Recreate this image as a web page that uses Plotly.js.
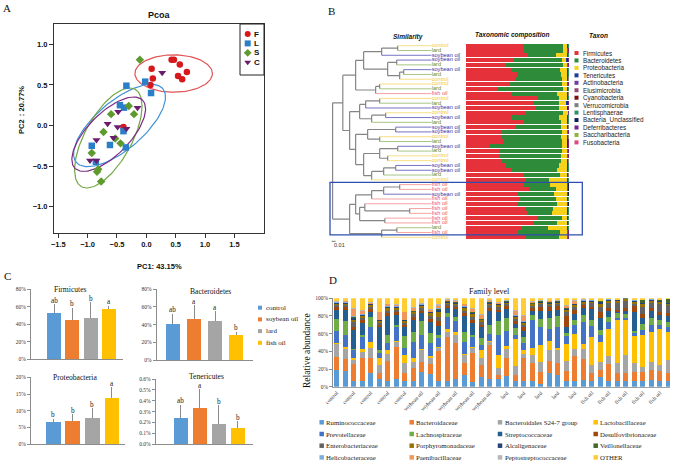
<!DOCTYPE html>
<html><head><meta charset="utf-8">
<script src="https://cdn.plot.ly/plotly-3.0.1.min.js"></script>
<style>html,body{margin:0;padding:0;background:#fff}#chart{width:675px;height:464px}</style>
</head><body><div id="chart"></div>
<script>
// ================= DATA =================
// Panel A : PCoA scores
const pcoaGroups = ['F', 'L', 'S', 'C'];
const fX = [0.09, 0.11, 0.07, 0.43, 0.47, 0.57, 0.69, 0.54, 0.61, -0.39];
const fY = [0.70, 0.58, 0.50, 0.81, 0.81, 0.75, 0.66, 0.61, 0.57, -0.02];
const lX = [-0.34, -0.02, 0.08, -0.45, -0.38, -0.39, -0.93, -0.86, -0.62, -0.35];
const lY = [0.49, 0.54, 0.40, 0.25, 0.22, -0.07, -0.25, -0.45, -0.24, -0.27];
const sX = [-0.11, -0.30, -0.60, -0.21, -0.73, -0.53, -0.44, -0.93, -0.82, -0.84, -0.77];
const sY = [0.81, 0.24, 0.14, 0.14, -0.08, -0.16, -0.22, -0.34, -0.54, -0.57, -0.69];
const cX = [0.27, -0.15, -0.48, -0.66, -0.49, -0.34, -0.56, -0.85, -0.96, -0.85];
const cY = [0.65, 0.22, 0.17, 0.02, -0.02, -0.04, -0.15, -0.18, -0.43, -0.43];
// confidence ellipses: centre and two conjugate half-axes (data units)
const ellCx = [0.465, -0.457, -0.648, -0.641];
const ellCy = [0.64, 0.0, -0.154, -0.107];
const ellUx = [0.66, 0.678, 0.455, 0.574];
const ellUy = [0.0, 0.487, 0.60, 0.421];
const ellVx = [0.0, 0.391, 0.35, 0.254];
const ellVy = [0.23, -0.1425, -0.139, -0.181];

// Panel B : samples (dendrogram leaves, top to bottom)
const sampleGroups = ['control','lard','soybean oil','soybean oil','lard','soybean oil','lard','control','control','lard',
 'fish oil','control','lard','soybean oil','control','soybean oil','lard','soybean oil','soybean oil','control',
 'lard','soybean oil','lard','control','control','soybean oil','soybean oil','lard','control','fish oil',
 'fish oil','soybean oil','fish oil','fish oil','fish oil','fish oil','fish oil','fish oil','lard','fish oil','control'];
// tree: [height, left, right]; leaves are row numbers
const dendroTree = [0.2475,
  [0.222,
    [0.19,
      [0.17, [0.125, [0.085, 1, 2], 3], [0.11, [0.0875, 4, 5], [0.08, [0.07, 6, 7], 8]]],
      [0.14, [0.13, 9, 10], 11]],
    [0.205,
      [0.18, [0.165, [0.13, 12, 13], 14], [0.15, [0.115, 15, 16], 17]],
      [0.19, [0.16, [0.09, 18, 19], [0.13, 20, 21]],
             [0.17, [0.13, [0.085, 22, 23], [0.11, 24, 25]], [0.15, [0.12, [0.09, 26, 27], 28], 29]]]]],
  [0.205,
    [0.19, [0.15, [0.12, [0.08, 30, 31], 32], 33], [0.18, [0.167, 34, [0.055, 35, 36]], [0.117, 37, 38]]],
    [0.125, [0.087, 39, 40], 41]]];
const phylumNames = ['Firmicutes','Bacteroidetes','Proteobacteria','Tenericutes','Actinobacteria','Elusimicrobia',
 'Cyanobacteria','Verrucomicrobia','Lentisphaerae','Bacteria_Unclassified','Deferribacteres','Saccharibacteria','Fusobacteria'];
const firmicutes = [55.6,55.0,59.8,46.9,38.6,43.4,49.8,47.6,42.8,30.5, 45.0,70.1,65.3,66.9,57.9,45.0,55.6,48.6,34.1,34.1,
 36.3,22.8,32.5,32.5,35.4,37.9,43.7,55.6,57.9,55.6, 61.4,49.8,51.8,49.2,57.6,59.8,69.1,65.3,54.0,50.2,57.9];
const bacteroidetes = [37.9,38.6,27.3,45.7,55.0,47.6,42.1,45.7,50.2,63.0, 43.1,19.9,24.8,22.8,36.0,45.0,36.3,43.4,58.8,57.9,
 56.3,69.8,60.1,59.5,56.9,52.4,44.1,35.4,22.2,25.7, 25.7,35.7,35.0,39.2,27.0,23.8,23.5,22.5,25.1,40.8,32.5];
const proteobacteria = [4.5,3.9,10.9,4.2,3.9,7.1,6.1,4.8,4.5,4.5, 10.0,8.0,6.8,7.7,5.1,8.0,6.1,6.1,4.5,6.1,
 4.8,4.8,4.8,5.5,5.8,7.7,10.3,7.1,18.0,16.7, 10.9,12.5,11.3,9.6,13.5,14.5,5.5,10.3,19.0,6.4,7.1];
const tenericutes = [0.3,0.3,0.3,0.5,0.3,0.2,0.3,0.3,0.4,0.3, 0.3,0.3,0.5,0.3,0.2,0.3,0.3,0.3,0.4,0.3,
 0.3,0.3,0.4,0.3,0.3,0.3,0.2,0.3,0.2,0.2, 0.2,0.2,0.2,0.2,0.2,0.2,0.2,0.2,0.2,0.4,0.3];
const actinobacteria = [0.4,0.4,0.4,0.5,0.4,0.4,0.4,0.4,0.4,0.4, 0.4,0.4,0.5,0.4,0.3,0.4,0.4,0.4,0.4,0.4,
 0.4,0.4,0.4,0.4,0.4,0.4,0.4,0.4,0.4,0.4, 0.4,0.4,0.4,0.4,0.4,0.4,0.4,0.4,0.4,0.4,0.4];
const elusimicrobia = [0.1,0.1,0.1,0.1,0.1,0.1,0.1,0.1,0.1,0.1, 0.1,0.1,0.1,0.1,0.1,0.1,0.1,0.1,0.1,0.1,
 0.1,0.1,0.1,0.1,0.1,0.1,0.1,0.1,0.1,0.1, 0.1,0.1,0.1,0.1,0.1,0.1,0.1,0.1,0.1,0.1,0.1];
const cyanobacteria = [0.2,0.3,0.2,0.6,0.2,0.2,0.2,0.2,0.3,0.2, 0.2,0.2,0.5,0.3,0.1,0.2,0.2,0.2,0.3,0.2,
 0.3,0.3,0.3,0.3,0.2,0.2,0.2,0.2,0.2,0.2, 0.2,0.2,0.2,0.2,0.2,0.2,0.2,0.2,0.2,0.3,0.3];
const verrucomicrobia = [0.2,0.3,0.2,0.4,0.3,0.2,0.2,0.2,0.3,0.2, 0.2,0.2,0.4,0.3,0.1,0.2,0.2,0.2,0.3,0.2,
 0.3,0.3,0.3,0.3,0.2,0.2,0.2,0.2,0.2,0.2, 0.2,0.2,0.2,0.2,0.2,0.2,0.2,0.2,0.2,0.3,0.3];
const lentisphaerae = [0.1,0.1,0.1,0.1,0.1,0.1,0.1,0.1,0.1,0.1, 0.1,0.1,0.1,0.1,0.05,0.1,0.1,0.1,0.1,0.1,
 0.1,0.1,0.1,0.1,0.1,0.1,0.1,0.1,0.1,0.1, 0.1,0.1,0.1,0.1,0.1,0.1,0.1,0.1,0.1,0.1,0.1];
const unclassified = [0.1,0.1,0.1,0.1,0.1,0.1,0.1,0.1,0.1,0.1, 0.1,0.1,0.1,0.1,0.05,0.1,0.1,0.1,0.1,0.1,
 0.1,0.1,0.1,0.1,0.1,0.1,0.1,0.1,0.1,0.1, 0.1,0.1,0.1,0.1,0.1,0.1,0.1,0.1,0.1,0.1,0.1];
const deferribacteres = [0.5,0.8,0.5,0.8,0.9,0.6,0.6,0.5,0.8,0.6, 0.5,0.6,0.8,0.9,0.05,0.6,0.6,0.5,0.9,0.5,
 0.9,0.9,0.8,0.8,0.5,0.6,0.6,0.5,0.6,0.7, 0.7,0.7,0.6,0.7,0.6,0.6,0.6,0.6,0.6,0.8,0.8];
const saccharibacteria = [0.05,0.05,0.05,0.05,0.05,0.05,0.05,0.05,0.05,0.05, 0.05,0.05,0.05,0.05,0.05,0.05,0.05,0.05,0.05,0.05,
 0.05,0.05,0.05,0.05,0.05,0.05,0.05,0.05,0.05,0.05, 0.05,0.05,0.05,0.05,0.05,0.05,0.05,0.05,0.05,0.05,0.05];
const fusobacteria = [0.05,0.05,0.05,0.05,0.05,0.05,0.05,0.05,0.05,0.05, 0.05,0.05,0.05,0.05,0.05,0.05,0.05,0.05,0.05,0.05,
 0.05,0.05,0.05,0.05,0.05,0.05,0.05,0.05,0.05,0.05, 0.05,0.05,0.05,0.05,0.05,0.05,0.05,0.05,0.05,0.05,0.05];

// Panel C : group means (%) with one-sided SD and significance letters
const dietGroups = ['control', 'soybean oil', 'lard', 'fish oil'];
const firmMean = [53.2, 45.1, 46.7, 57.4];
const firmErr = [9.4, 13.5, 18.2, 4.0];
const firmLetters = ['ab', 'b', 'b', 'a'];
const bactMean = [40.4, 46.4, 44.1, 28.3];
const bactErr = [12.2, 15.3, 10.8, 3.4];
const bactLetters = ['ab', 'a', 'a', 'b'];
const proteoMean = [6.6, 7.0, 7.9, 13.9];
const proteoErr = [1.0, 2.0, 2.8, 3.2];
const proteoLetters = ['b', 'b', 'b', 'a'];
const teneMean = [0.239, 0.336, 0.189, 0.152];
const teneErr = [0.126, 0.172, 0.172, 0.062];
const teneLetters = ['ab', 'a', 'b', 'b'];

// Panel D : family level relative abundance (%) for 40 samples
const dGroups = ['control','control','control','control','control','control','control','control','control','control',
 'soybean oil','soybean oil','soybean oil','soybean oil','soybean oil','soybean oil','soybean oil','soybean oil','soybean oil','soybean oil',
 'lard','lard','lard','lard','lard','lard','lard','lard','lard','lard',
 'fish oil','fish oil','fish oil','fish oil','fish oil','fish oil','fish oil','fish oil','fish oil','fish oil'];
const dFamilies = ['Ruminococcaceae','Bacteroidaceae','Bacteroidales S24-7 group','Lactobacillaceae','Prevotellaceae',
 'Lachnospiraceae','Streptococcaceae','Desulfovibrionaceae','Enterobacteriaceae','Porphyromonadaceae','Alcaligenaceae',
 'Veillonellaceae','Helicobacteraceae','Paenibacillaceae','Peptostreptococcaceae','OTHER'];
const ruminococcaceae = [19,18,6,7,15,9,7,9,6,7, 17,14,7,6,9,13,5,11,9,9, 12,7,6,6,3,16,13,7,7,8, 7,11,7,6,6,7,7,8,7,6];
const bacteroidaceae = [15,13,20,26,18,6,22,36,9,14, 11,12,33,50,40,14,33,13,38,4, 20,6,26,21,14,13,14,11,28,23, 9,8,19,10,10,10,10,11,11,10];
const s24_7 = [14,12,4,6,11,9,8,6,12,7, 13,6,4,6,9,9,6,9,4,8, 11,10,5,9,11,12,15,11,8,12, 8,9,9,11,20,10,5,9,7,14];
const lactobacillaceae = [1,2,2,4,6,9,4,1,9,5, 2,3,1,3,4,1,1,8,1,15, 3,31,4,8,19,11,2,19,17,5, 32,23,30,49,40,30,36,34,40,32];
const prevotellaceae = [14,13,9,13,18,5,8,16,8,17, 16,14,10,14,12,13,11,6,8,23, 17,4,8,31,20,13,23,9,10,25, 13,8,8,2,2,4,6,8,5,5];
const lachnospiraceae = [14,16,2,2,11,3,10,2,13,12, 15,12,4,4,5,12,3,8,10,15, 15,8,7,6,10,13,13,4,6,8, 6,5,6,5,4,2,7,8,6,6];
const streptococcaceae = [10,13,21,14,6,26,21,11,10,13, 9,12,10,6,9,18,13,12,16,10, 10,5,7,5,9,8,7,6,6,8, 13,14,7,2,4,22,7,8,5,7];
const desulfovibrionaceae = [3,3,4,3,3,3,3,3,3,4, 3,4,5,2,2,3,4,3,3,3, 3,3,4,3,4,4,4,13,5,3, 2,6,3,2,3,6,4,3,3,3];
const enterobacteriaceae = [2,2,5,3,2,2,3,3,2,3, 3,3,5,2,2,3,3,3,3,3, 2,3,3,2,3,2,2,4,3,2, 5,6,6,8,8,3,8,6,9,9];
const porphyromonadaceae = [2,2,3,2,2,2,3,2,2,2, 2,3,5,2,2,3,3,2,2,2, 2,2,2,2,2,2,2,3,2,2, 1,3,2,2,2,2,3,2,3,2];
const alcaligenaceae = [0.5,0.5,2,1,1,1,1,1,1,1, 1,1,3,1,1,1,1,1,1,1, 1,1,1,1,1,1,1,1,1,1, 1,3,1,1,0.5,1,2,1,1,1];
const veillonellaceae = [0.5,0.5,1,0.5,0.5,0.5,0.5,0.5,0.5,0.5, 0.5,0.5,1,0.5,0.5,0.5,1,0.5,0.5,0.5, 0.5,0.5,0.5,0.5,0.5,0.5,0.5,0.5,0.5,0.5, 0.5,0.5,0.5,0.5,0.5,0.5,3,0.5,1,4];
const helicobacteraceae = [0.5,0.5,0.5,0.5,0.5,0.5,0.5,0.5,0.5,0.5, 0.5,0.5,0.5,0.5,0.5,0.5,0.5,0.5,0.5,0.5, 0.5,0.5,0.5,0.5,0.5,0.5,0.5,0.5,0.5,0.5, 0.5,0.5,0.5,0,0,0.5,0.5,0.5,0.5,0];
const paenibacillaceae = [0.5,1,8,4,1,8,2,1,8,3, 1,2,3,1,1,2,3,4,1,1, 0.5,5,6,1,0.5,0.5,0.5,2,3,0.5, 0,0,0,0,0,0,0,0,0,0];
const peptostreptococcaceae = [0.5,0.5,1.5,1,1,1,1,1,1,1, 1,1,1.5,1,1,1,1.5,1,1,1, 0.5,1,1,1,0.5,0.5,0.5,1,1,0.5, 0,0,0,0,0,0,0,0,0,0];
const otherFamilies = [3.5,3,11,13,4,15,6,7,15,10, 5,12,7,1,2,6,11,18,2,4, 2,13,19,3,2,3,2,8,2,1, 2,3,1,1.5,1,2,1.5,1,1.5,1];

// ================= STYLE =================
const W = 675, H = 464;
const px = x => x / W, py = y => 1 - y / H;
const sans = 'Liberation Sans, Arial, sans-serif';
const serif = 'Liberation Serif, Times New Roman, serif';
const pcoaColors = ['#d7191c', '#2b7fc8', '#5f9a2e', '#6a1d6e'];
const pcoaEllColors = ['#e35353', '#3f92d8', '#74a843', '#7e2b86'];
const pcoaSymbols = ['circle', 'square', 'diamond', 'triangle-down'];
const groupText = {'control': '#f0c935', 'lard': '#5f8f33', 'soybean oil': '#3434a6', 'fish oil': '#ee5a5a'};
const groupLine = {'control': '#f6df86', 'lard': '#a7c683', 'soybean oil': '#7474c4', 'fish oil': '#f5a3a3'};
const phylumColors = ['#e5313a','#2e8b3a','#f6d21c','#1a3d9c','#6b3fa0','#8e4b74','#7a0c0c','#7f7f7f','#2f8f6f','#0e1f5c','#74238f','#8fb33f','#e0457b'];
const dietColors = ['#5b9bd5', '#ed7d31', '#a5a5a5', '#ffc000'];
const familyColors = ['#5b9bd5','#ed7d31','#a5a5a5','#ffc000','#4472c4','#70ad47','#255e91','#9e480e','#636363','#997300','#264478','#43682b','#7cafdd','#f1975a','#b7b7b7','#ffcd33'];

const traces = [], annotations = [], shapes = [];
function ann(text, x, y, font, extra) {
  annotations.push(Object.assign({text, x: px(x), y: py(y), xref: 'paper', yref: 'paper', showarrow: false,
    xanchor: 'center', yanchor: 'middle', font}, extra || {}));
}
const layout = {
  width: W, height: H, margin: {l: 0, r: 0, t: 0, b: 0}, paper_bgcolor: '#fff', plot_bgcolor: 'rgba(0,0,0,0)',
  showlegend: false, hovermode: false, barmode: 'stack', annotations, shapes
};

// ================= PANEL A =================
const ptsX = [fX, lX, sX, cX], ptsY = [fY, lY, sY, cY];
pcoaGroups.forEach((g, i) => {
  const xs = [], ys = [];
  for (let k = 0; k <= 120; k++) {
    const t = 2 * Math.PI * k / 120;
    xs.push(ellCx[i] + ellUx[i] * Math.cos(t) + ellVx[i] * Math.sin(t));
    ys.push(ellCy[i] + ellUy[i] * Math.cos(t) + ellVy[i] * Math.sin(t));
  }
  traces.push({type: 'scatter', mode: 'lines', x: xs, y: ys, xaxis: 'x', yaxis: 'y',
    line: {color: pcoaEllColors[i], width: 1.2}});
});
pcoaGroups.forEach((g, i) => {
  traces.push({type: 'scatter', mode: 'markers', name: g, x: ptsX[i], y: ptsY[i], xaxis: 'x', yaxis: 'y',
    marker: {symbol: pcoaSymbols[i], color: pcoaColors[i], size: i === 3 ? 7 : 6.5}});
});
const aTick = {family: sans, size: 7.5, color: '#111', weight: 'bold'};
layout.xaxis = {domain: [px(54), px(264)], range: [-1.573, 2.004], anchor: 'y', showline: true, mirror: true,
  linecolor: '#333', linewidth: 1, ticks: 'outside', ticklen: 4, tickcolor: '#333',
  tickvals: [-1.5, -1, -0.5, 0, 0.5, 1, 1.5], tickformat: '.1f', tickfont: aTick, showgrid: false, zeroline: false, fixedrange: true};
layout.yaxis = {domain: [py(233), py(24)], range: [-1.324, 1.25], anchor: 'x', showline: true, mirror: true,
  linecolor: '#333', linewidth: 1, ticks: 'outside', ticklen: 4, tickcolor: '#333',
  tickvals: [-1, -0.5, 0, 0.5, 1], tickformat: '.1f', tickfont: aTick, showgrid: false, zeroline: false, fixedrange: true};
ann('Pcoa', 159, 15, {family: sans, size: 9, color: '#111', weight: 'bold'});
ann('PC1: 43.15%', 159.5, 266, {family: sans, size: 7.5, color: '#111', weight: 'bold'});
ann('PC2：20.77%', 22, 110, {family: sans, size: 7.5, color: '#111', weight: 'bold'}, {textangle: -90});
shapes.push({type: 'rect', xref: 'paper', yref: 'paper', x0: px(240), x1: px(264), y0: py(75), y1: py(24),
  line: {color: '#222', width: 1}});

// overlay axis in pixel units for legend keys
layout.xaxis9 = {domain: [0, 1], range: [0, W], visible: false, anchor: 'y9', fixedrange: true};
layout.yaxis9 = {domain: [0, 1], range: [H, 0], visible: false, anchor: 'x9', fixedrange: true};
function legendKeys(names, colors, symbols, xKey, xText, y0, dy, size, font) {
  const ys = names.map((n, i) => y0 + i * dy);
  traces.push({type: 'scatter', mode: 'markers', x: names.map(() => xKey), y: ys, xaxis: 'x9', yaxis: 'y9',
    marker: {symbol: symbols, color: colors, size: size}, cliponaxis: false});
  names.forEach((n, i) => ann(n, xText, ys[i], font, {xanchor: 'left'}));
}
legendKeys(pcoaGroups, pcoaColors, pcoaSymbols, 247.7, 252, 34, 9.4, 6, {family: sans, size: 8, color: '#111', weight: 'bold'});

// ================= PANEL B =================
const segs = {};
function addSeg(key, xs, ys) {
  if (!segs[key]) segs[key] = {x: [], y: []};
  segs[key].x.push(xs[0], xs[1], null); segs[key].y.push(ys[0], ys[1], null);
}
function walk(node) {
  if (typeof node === 'number') return {y: node, h: 0, leaf: true, g: sampleGroups[node - 1]};
  const h = node[0], a = walk(node[1]), b = walk(node[2]);
  addSeg('internal', [h, h], [a.y, b.y]);
  [a, b].forEach(c => addSeg(c.leaf ? c.g : 'internal', [c.h, h], [c.y, c.y]));
  return {y: (a.y + b.y) / 2, h: h, leaf: false};
}
walk(dendroTree);
Object.keys(segs).forEach(k => {
  traces.push({type: 'scatter', mode: 'lines', x: segs[k].x, y: segs[k].y, xaxis: 'x2', yaxis: 'y2',
    line: {color: k === 'internal' ? '#858585' : groupLine[k], width: k === 'internal' ? 1.2 : 1}, cliponaxis: false});
});
const rows = sampleGroups.map((g, i) => i + 1);
traces.push({type: 'scatter', mode: 'text', x: rows.map(() => 0), y: rows, text: sampleGroups, xaxis: 'x2', yaxis: 'y2',
  textposition: 'middle right', textfont: {family: sans, size: 5.6, color: sampleGroups.map(g => groupText[g])}, cliponaxis: false});
const phylumValues = [firmicutes, bacteroidetes, proteobacteria, tenericutes, actinobacteria, elusimicrobia, cyanobacteria,
  verrucomicrobia, lentisphaerae, unclassified, deferribacteres, saccharibacteria, fusobacteria];
phylumNames.forEach((n, i) => {
  traces.push({type: 'bar', orientation: 'h', name: n, x: phylumValues[i], y: rows, xaxis: 'x3', yaxis: 'y3',
    width: 0.86, marker: {color: phylumColors[i], line: {width: 0}}});
});
layout.xaxis2 = {domain: [px(330), px(431.7)], range: [0.254, 0], visible: false, anchor: 'y2', fixedrange: true};
layout.yaxis2 = {domain: [py(239.7), py(43.3)], range: [41.5, 0.5], visible: false, anchor: 'x2', fixedrange: true};
layout.xaxis3 = {domain: [px(465.7), px(569.3)], range: [0, 100], visible: false, anchor: 'y3', fixedrange: true};
layout.yaxis3 = {domain: [py(239.7), py(43.3)], range: [41.5, 0.5], visible: false, anchor: 'x3', fixedrange: true};
const bTitle = {family: sans, size: 6.5, color: '#111', weight: 'bold', style: 'italic'};
ann('Similarity', 408, 37, bTitle);
ann('Taxonomic composition', 512, 35, bTitle);
ann('Taxon', 598, 35, bTitle);
shapes.push({type: 'rect', xref: 'paper', yref: 'y2', x0: px(330), x1: px(582.3), y0: 29.55, y1: 40.5,
  line: {color: '#2f4fb0', width: 1.3}});
shapes.push({type: 'line', xref: 'x2', yref: 'paper', x0: 0.25, x1: 0.24, y0: py(241.3), y1: py(241.3),
  line: {color: '#555', width: 0.8}});
ann('0.01', 340, 245.5, {family: sans, size: 5.5, color: '#333'});
legendKeys(phylumNames, phylumColors, phylumNames.map(() => 'square'), 576.5, 581, 53, 7.45, 4,
  {family: sans, size: 6.3, color: '#222'});

// ================= PANEL C =================
const cPanels = [
  {n: 4, mean: firmMean, err: firmErr, letters: firmLetters, title: 'Firmicutes', tx: 70, ty: 289.5,
   xd: [31, 123], yd: [359, 289.3], xr: [-1.285, 3.789], yr: [0, 80], dtick: 20, fmt: 'd', w: 0.77},
  {n: 5, mean: bactMean, err: bactErr, letters: bactLetters, title: 'Bacteroidetes', tx: 210, ty: 291.3,
   xd: [156.7, 253], yd: [360, 289.3], xr: [-0.771, 3.795], yr: [0, 80], dtick: 20, fmt: 'd', w: 0.64},
  {n: 6, mean: proteoMean, err: proteoErr, letters: proteoLetters, title: 'Proteobacteria', tx: 75, ty: 377.5,
   xd: [31, 125], yd: [444.3, 377.3], xr: [-1.133, 3.665], yr: [0, 20], dtick: 5, fmt: 'd', w: 0.75},
  {n: 7, mean: teneMean, err: teneErr, letters: teneLetters, title: 'Tenericutes', tx: 206.7, ty: 376.8,
   xd: [155.7, 253.3], yd: [444.3, 379], xr: [-1.318, 3.806], yr: [0, 0.6], dtick: 0.1, fmt: '.1f', w: 0.76}
];
cPanels.forEach(p => {
  const xs = dietGroups.map((g, k) => k);
  traces.push({type: 'bar', x: xs, y: p.mean, xaxis: 'x' + p.n, yaxis: 'y' + p.n, width: p.w,
    marker: {color: dietColors, line: {width: 0}},
    error_y: {type: 'data', symmetric: false, array: p.err, arrayminus: p.err.map(() => 0), color: '#8a8a8a', thickness: 1, width: 0}});
  layout['xaxis' + p.n] = {domain: [px(p.xd[0]), px(p.xd[1])], range: p.xr, anchor: 'y' + p.n, showline: true,
    linecolor: '#8c8c8c', linewidth: 1, ticks: '', showticklabels: false, showgrid: false, zeroline: false, fixedrange: true};
  layout['yaxis' + p.n] = {domain: [py(p.yd[0]), py(p.yd[1])], range: p.yr, anchor: 'x' + p.n, showline: true,
    linecolor: '#8c8c8c', linewidth: 1, ticks: 'outside', ticklen: 3, tickcolor: '#8c8c8c', tick0: 0, dtick: p.dtick,
    tickformat: p.fmt, ticksuffix: '%', tickfont: {family: serif, size: 5.5, color: '#333'},
    showgrid: false, zeroline: false, fixedrange: true};
  p.letters.forEach((L, k) => annotations.push({text: L, x: k, y: p.mean[k] + p.err[k], xref: 'x' + p.n, yref: 'y' + p.n,
    showarrow: false, xanchor: 'center', yanchor: 'bottom', yshift: -2.5, font: {family: serif, size: 7.2, color: '#222'}}));
  ann(p.title, p.tx, p.ty, {family: serif, size: 7.6, color: '#111'});
});
legendKeys(dietGroups, dietColors, dietGroups.map(() => 'square'), 260, 264, 307.7, 11.7, 4,
  {family: serif, size: 7, color: '#222'});

// ================= PANEL D =================
const familyValues = [ruminococcaceae, bacteroidaceae, s24_7, lactobacillaceae, prevotellaceae, lachnospiraceae,
  streptococcaceae, desulfovibrionaceae, enterobacteriaceae, porphyromonadaceae, alcaligenaceae, veillonellaceae,
  helicobacteraceae, paenibacillaceae, peptostreptococcaceae, otherFamilies];
const dx = dGroups.map((g, i) => i);
dFamilies.forEach((f, i) => {
  traces.push({type: 'bar', name: f, x: dx, y: familyValues[i], xaxis: 'x8', yaxis: 'y8', width: 0.55,
    marker: {color: familyColors[i], line: {width: 0}}});
});
const dTickIdx = dx.filter(i => i % 2 === 0);
layout.xaxis8 = {domain: [px(333.3), px(670)], range: [-0.4, 39.2], anchor: 'y8', showline: true, linecolor: '#a0a0a0',
  linewidth: 1, ticks: '', tickvals: dTickIdx, ticktext: dTickIdx.map(i => dGroups[i]), tickangle: -45,
  tickfont: {family: serif, size: 5.5, color: '#333'}, showgrid: false, zeroline: false, fixedrange: true};
layout.yaxis8 = {domain: [py(386.7), py(298.3)], range: [0, 100], anchor: 'x8', showline: true, linecolor: '#8c8c8c',
  linewidth: 1, ticks: 'outside', ticklen: 3, tickcolor: '#8c8c8c', tick0: 0, dtick: 20, ticksuffix: '%',
  tickfont: {family: serif, size: 5.5, color: '#333'}, showgrid: false, zeroline: false, fixedrange: true};
ann('Family level', 489.3, 291.7, {family: serif, size: 8, color: '#111'});
ann('Relative abundance', 307, 351, {family: serif, size: 9.5, color: '#111'}, {textangle: -90});
const dColX = [321.7, 411.7, 500, 595.7];
[0, 1, 2, 3].forEach(c => {
  const idx = dFamilies.map((f, i) => i).filter(i => i % 4 === c);
  legendKeys(idx.map(i => dFamilies[i]), idx.map(i => familyColors[i]), idx.map(() => 'square'),
    dColX[c], dColX[c] + 2.5, 422.3, 11.7, 4.5, {family: serif, size: 6.8, color: '#222'});
});

// panel letters
const letterFont = {family: serif, size: 11, color: '#111'};
ann('A', 7, 8, letterFont); ann('B', 331, 11, letterFont); ann('C', 7, 276, letterFont); ann('D', 333, 280, letterFont);

Plotly.newPlot('chart', traces, layout, {staticPlot: true});
</script></body></html>
